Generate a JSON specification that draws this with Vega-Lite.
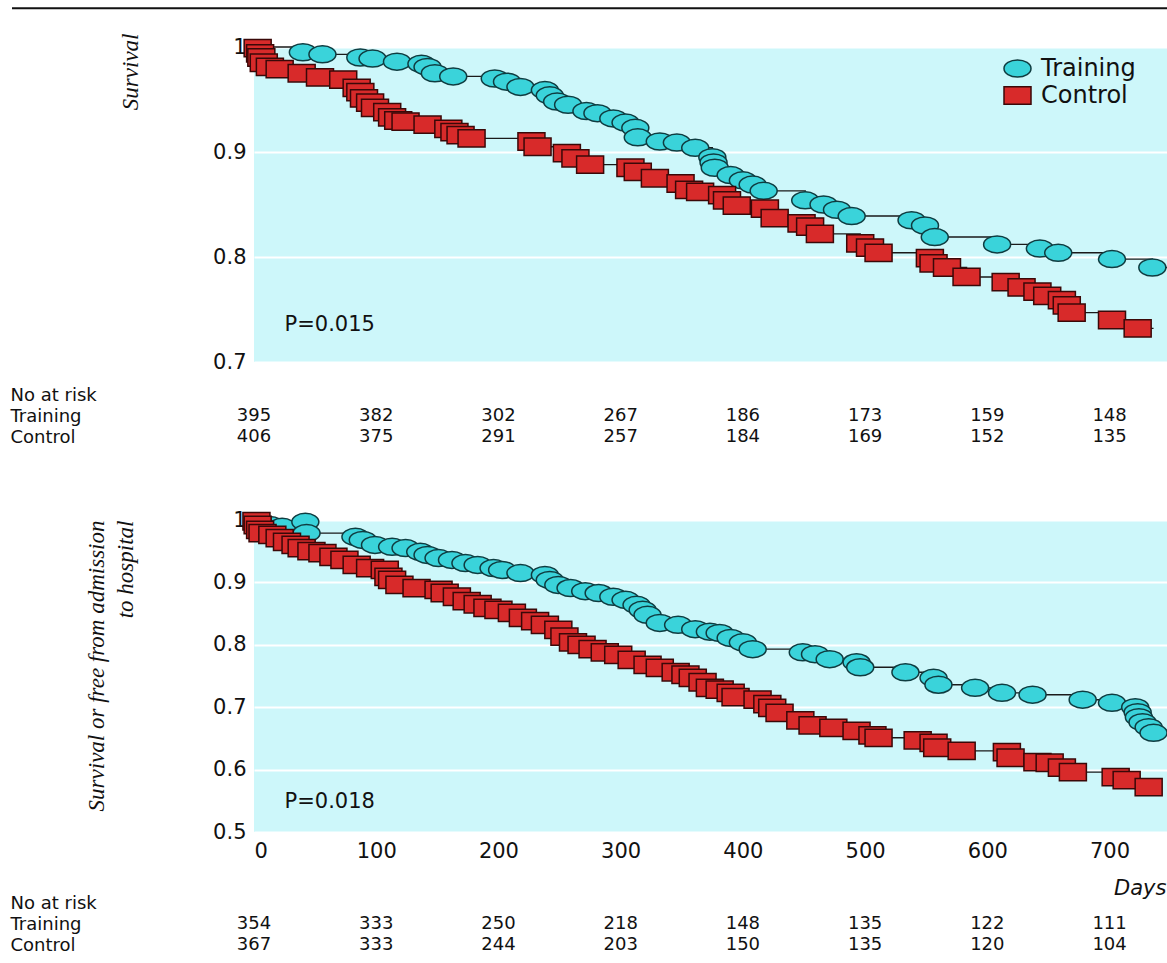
{
  "$schema": "https://vega.github.io/schema/vega-lite/v6.json",
  "autosize": {"type": "pad"},
  "padding": {"left": 10, "top": 7, "right": 0, "bottom": 0},
  "background": "white",
  "spacing": 0,
  "bounds": "flush",
  "config": {
    "view": {"stroke": null},
    "font": "DejaVu Sans",
    "axis": {"labelFont": "DejaVu Sans", "labelColor": "#111", "labelFontSize": 21, "titleColor": "#111"}
  },
  "resolve": {"scale": {"x": "independent", "y": "independent", "fill": "independent", "shape": "independent", "stroke": "independent"}},
  "datasets": {
    "top": [
      {"group": "Training", "day": 0, "s": 1, "type": "start"},
      {"group": "Training", "day": 40, "s": 0.995, "type": "event"},
      {"group": "Training", "day": 56, "s": 0.993, "type": "event"},
      {"group": "Training", "day": 87, "s": 0.990, "type": "event"},
      {"group": "Training", "day": 97, "s": 0.989, "type": "event"},
      {"group": "Training", "day": 117, "s": 0.986, "type": "event"},
      {"group": "Training", "day": 137, "s": 0.984, "type": "event"},
      {"group": "Training", "day": 142, "s": 0.981, "type": "event"},
      {"group": "Training", "day": 148, "s": 0.975, "type": "event"},
      {"group": "Training", "day": 163, "s": 0.972, "type": "event"},
      {"group": "Training", "day": 197, "s": 0.970, "type": "event"},
      {"group": "Training", "day": 207, "s": 0.967, "type": "event"},
      {"group": "Training", "day": 218, "s": 0.962, "type": "event"},
      {"group": "Training", "day": 238, "s": 0.959, "type": "event"},
      {"group": "Training", "day": 242, "s": 0.954, "type": "event"},
      {"group": "Training", "day": 248, "s": 0.948, "type": "event"},
      {"group": "Training", "day": 257, "s": 0.945, "type": "event"},
      {"group": "Training", "day": 272, "s": 0.939, "type": "event"},
      {"group": "Training", "day": 281, "s": 0.937, "type": "event"},
      {"group": "Training", "day": 294, "s": 0.932, "type": "event"},
      {"group": "Training", "day": 304, "s": 0.928, "type": "event"},
      {"group": "Training", "day": 312, "s": 0.923, "type": "event"},
      {"group": "Training", "day": 314, "s": 0.914, "type": "event"},
      {"group": "Training", "day": 332, "s": 0.910, "type": "event"},
      {"group": "Training", "day": 346, "s": 0.909, "type": "event"},
      {"group": "Training", "day": 361, "s": 0.904, "type": "event"},
      {"group": "Training", "day": 375, "s": 0.895, "type": "event"},
      {"group": "Training", "day": 376, "s": 0.890, "type": "event"},
      {"group": "Training", "day": 377, "s": 0.885, "type": "event"},
      {"group": "Training", "day": 390, "s": 0.878, "type": "event"},
      {"group": "Training", "day": 400, "s": 0.873, "type": "event"},
      {"group": "Training", "day": 408, "s": 0.869, "type": "event"},
      {"group": "Training", "day": 417, "s": 0.863, "type": "event"},
      {"group": "Training", "day": 451, "s": 0.854, "type": "event"},
      {"group": "Training", "day": 466, "s": 0.850, "type": "event"},
      {"group": "Training", "day": 477, "s": 0.845, "type": "event"},
      {"group": "Training", "day": 489, "s": 0.839, "type": "event"},
      {"group": "Training", "day": 538, "s": 0.835, "type": "event"},
      {"group": "Training", "day": 549, "s": 0.830, "type": "event"},
      {"group": "Training", "day": 557, "s": 0.819, "type": "event"},
      {"group": "Training", "day": 608, "s": 0.812, "type": "event"},
      {"group": "Training", "day": 643, "s": 0.808, "type": "event"},
      {"group": "Training", "day": 658, "s": 0.804, "type": "event"},
      {"group": "Training", "day": 702, "s": 0.798, "type": "event"},
      {"group": "Training", "day": 735, "s": 0.790, "type": "event"},
      {"group": "Training", "day": 747, "s": 0.790, "type": "end"},
      {"group": "Control", "day": 0, "s": 1, "type": "start"},
      {"group": "Control", "day": 3, "s": 0.999, "type": "event"},
      {"group": "Control", "day": 5, "s": 0.994, "type": "event"},
      {"group": "Control", "day": 6, "s": 0.990, "type": "event"},
      {"group": "Control", "day": 8, "s": 0.985, "type": "event"},
      {"group": "Control", "day": 13, "s": 0.981, "type": "event"},
      {"group": "Control", "day": 21, "s": 0.979, "type": "event"},
      {"group": "Control", "day": 39, "s": 0.975, "type": "event"},
      {"group": "Control", "day": 54, "s": 0.971, "type": "event"},
      {"group": "Control", "day": 73, "s": 0.969, "type": "event"},
      {"group": "Control", "day": 84, "s": 0.961, "type": "event"},
      {"group": "Control", "day": 87, "s": 0.957, "type": "event"},
      {"group": "Control", "day": 90, "s": 0.951, "type": "event"},
      {"group": "Control", "day": 95, "s": 0.947, "type": "event"},
      {"group": "Control", "day": 99, "s": 0.942, "type": "event"},
      {"group": "Control", "day": 109, "s": 0.938, "type": "event"},
      {"group": "Control", "day": 113, "s": 0.933, "type": "event"},
      {"group": "Control", "day": 118, "s": 0.930, "type": "event"},
      {"group": "Control", "day": 124, "s": 0.929, "type": "event"},
      {"group": "Control", "day": 142, "s": 0.926, "type": "event"},
      {"group": "Control", "day": 159, "s": 0.922, "type": "event"},
      {"group": "Control", "day": 164, "s": 0.919, "type": "event"},
      {"group": "Control", "day": 169, "s": 0.916, "type": "event"},
      {"group": "Control", "day": 178, "s": 0.913, "type": "event"},
      {"group": "Control", "day": 227, "s": 0.910, "type": "event"},
      {"group": "Control", "day": 232, "s": 0.905, "type": "event"},
      {"group": "Control", "day": 256, "s": 0.899, "type": "event"},
      {"group": "Control", "day": 263, "s": 0.894, "type": "event"},
      {"group": "Control", "day": 275, "s": 0.888, "type": "event"},
      {"group": "Control", "day": 308, "s": 0.885, "type": "event"},
      {"group": "Control", "day": 314, "s": 0.881, "type": "event"},
      {"group": "Control", "day": 328, "s": 0.875, "type": "event"},
      {"group": "Control", "day": 349, "s": 0.870, "type": "event"},
      {"group": "Control", "day": 356, "s": 0.864, "type": "event"},
      {"group": "Control", "day": 365, "s": 0.862, "type": "event"},
      {"group": "Control", "day": 383, "s": 0.859, "type": "event"},
      {"group": "Control", "day": 387, "s": 0.854, "type": "event"},
      {"group": "Control", "day": 395, "s": 0.849, "type": "event"},
      {"group": "Control", "day": 418, "s": 0.846, "type": "event"},
      {"group": "Control", "day": 426, "s": 0.837, "type": "event"},
      {"group": "Control", "day": 448, "s": 0.832, "type": "event"},
      {"group": "Control", "day": 455, "s": 0.829, "type": "event"},
      {"group": "Control", "day": 463, "s": 0.822, "type": "event"},
      {"group": "Control", "day": 496, "s": 0.813, "type": "event"},
      {"group": "Control", "day": 504, "s": 0.809, "type": "event"},
      {"group": "Control", "day": 511, "s": 0.804, "type": "event"},
      {"group": "Control", "day": 553, "s": 0.799, "type": "event"},
      {"group": "Control", "day": 556, "s": 0.794, "type": "event"},
      {"group": "Control", "day": 567, "s": 0.790, "type": "event"},
      {"group": "Control", "day": 583, "s": 0.781, "type": "event"},
      {"group": "Control", "day": 615, "s": 0.776, "type": "event"},
      {"group": "Control", "day": 628, "s": 0.771, "type": "event"},
      {"group": "Control", "day": 641, "s": 0.767, "type": "event"},
      {"group": "Control", "day": 649, "s": 0.763, "type": "event"},
      {"group": "Control", "day": 661, "s": 0.759, "type": "event"},
      {"group": "Control", "day": 665, "s": 0.754, "type": "event"},
      {"group": "Control", "day": 669, "s": 0.747, "type": "event"},
      {"group": "Control", "day": 702, "s": 0.740, "type": "event"},
      {"group": "Control", "day": 723, "s": 0.732, "type": "event"},
      {"group": "Control", "day": 736, "s": 0.732, "type": "end"}
    ],
    "bottom": [
      {"group": "Training", "day": 0, "s": 1, "type": "start"},
      {"group": "Training", "day": 13, "s": 0.992, "type": "event"},
      {"group": "Training", "day": 23, "s": 0.989, "type": "event"},
      {"group": "Training", "day": 42, "s": 0.997, "type": "censor"},
      {"group": "Training", "day": 43, "s": 0.979, "type": "event"},
      {"group": "Training", "day": 83, "s": 0.973, "type": "event"},
      {"group": "Training", "day": 89, "s": 0.968, "type": "event"},
      {"group": "Training", "day": 99, "s": 0.960, "type": "event"},
      {"group": "Training", "day": 113, "s": 0.957, "type": "event"},
      {"group": "Training", "day": 124, "s": 0.955, "type": "event"},
      {"group": "Training", "day": 136, "s": 0.949, "type": "event"},
      {"group": "Training", "day": 142, "s": 0.944, "type": "event"},
      {"group": "Training", "day": 151, "s": 0.939, "type": "event"},
      {"group": "Training", "day": 162, "s": 0.936, "type": "event"},
      {"group": "Training", "day": 173, "s": 0.931, "type": "event"},
      {"group": "Training", "day": 183, "s": 0.928, "type": "event"},
      {"group": "Training", "day": 196, "s": 0.923, "type": "event"},
      {"group": "Training", "day": 203, "s": 0.920, "type": "event"},
      {"group": "Training", "day": 218, "s": 0.915, "type": "event"},
      {"group": "Training", "day": 238, "s": 0.912, "type": "event"},
      {"group": "Training", "day": 242, "s": 0.904, "type": "event"},
      {"group": "Training", "day": 249, "s": 0.896, "type": "event"},
      {"group": "Training", "day": 259, "s": 0.891, "type": "event"},
      {"group": "Training", "day": 271, "s": 0.886, "type": "event"},
      {"group": "Training", "day": 282, "s": 0.883, "type": "event"},
      {"group": "Training", "day": 294, "s": 0.877, "type": "event"},
      {"group": "Training", "day": 304, "s": 0.872, "type": "event"},
      {"group": "Training", "day": 313, "s": 0.864, "type": "event"},
      {"group": "Training", "day": 318, "s": 0.856, "type": "event"},
      {"group": "Training", "day": 322, "s": 0.848, "type": "event"},
      {"group": "Training", "day": 332, "s": 0.835, "type": "event"},
      {"group": "Training", "day": 347, "s": 0.832, "type": "event"},
      {"group": "Training", "day": 361, "s": 0.825, "type": "event"},
      {"group": "Training", "day": 373, "s": 0.821, "type": "event"},
      {"group": "Training", "day": 381, "s": 0.819, "type": "event"},
      {"group": "Training", "day": 390, "s": 0.811, "type": "event"},
      {"group": "Training", "day": 400, "s": 0.804, "type": "event"},
      {"group": "Training", "day": 408, "s": 0.793, "type": "event"},
      {"group": "Training", "day": 449, "s": 0.788, "type": "event"},
      {"group": "Training", "day": 459, "s": 0.785, "type": "event"},
      {"group": "Training", "day": 471, "s": 0.777, "type": "event"},
      {"group": "Training", "day": 493, "s": 0.772, "type": "event"},
      {"group": "Training", "day": 496, "s": 0.764, "type": "event"},
      {"group": "Training", "day": 533, "s": 0.756, "type": "event"},
      {"group": "Training", "day": 556, "s": 0.747, "type": "event"},
      {"group": "Training", "day": 560, "s": 0.736, "type": "event"},
      {"group": "Training", "day": 590, "s": 0.731, "type": "event"},
      {"group": "Training", "day": 612, "s": 0.723, "type": "event"},
      {"group": "Training", "day": 637, "s": 0.720, "type": "event"},
      {"group": "Training", "day": 678, "s": 0.712, "type": "event"},
      {"group": "Training", "day": 702, "s": 0.707, "type": "event"},
      {"group": "Training", "day": 721, "s": 0.700, "type": "event"},
      {"group": "Training", "day": 723, "s": 0.692, "type": "event"},
      {"group": "Training", "day": 724, "s": 0.684, "type": "event"},
      {"group": "Training", "day": 727, "s": 0.676, "type": "event"},
      {"group": "Training", "day": 732, "s": 0.668, "type": "event"},
      {"group": "Training", "day": 736, "s": 0.659, "type": "event"},
      {"group": "Control", "day": 0, "s": 1, "type": "start"},
      {"group": "Control", "day": 2, "s": 0.998, "type": "event"},
      {"group": "Control", "day": 3, "s": 0.992, "type": "event"},
      {"group": "Control", "day": 5, "s": 0.984, "type": "event"},
      {"group": "Control", "day": 7, "s": 0.979, "type": "event"},
      {"group": "Control", "day": 15, "s": 0.976, "type": "event"},
      {"group": "Control", "day": 21, "s": 0.971, "type": "event"},
      {"group": "Control", "day": 27, "s": 0.965, "type": "event"},
      {"group": "Control", "day": 34, "s": 0.960, "type": "event"},
      {"group": "Control", "day": 39, "s": 0.955, "type": "event"},
      {"group": "Control", "day": 47, "s": 0.950, "type": "event"},
      {"group": "Control", "day": 56, "s": 0.947, "type": "event"},
      {"group": "Control", "day": 65, "s": 0.941, "type": "event"},
      {"group": "Control", "day": 74, "s": 0.936, "type": "event"},
      {"group": "Control", "day": 84, "s": 0.928, "type": "event"},
      {"group": "Control", "day": 95, "s": 0.923, "type": "event"},
      {"group": "Control", "day": 107, "s": 0.920, "type": "event"},
      {"group": "Control", "day": 110, "s": 0.909, "type": "event"},
      {"group": "Control", "day": 113, "s": 0.904, "type": "event"},
      {"group": "Control", "day": 119, "s": 0.896, "type": "event"},
      {"group": "Control", "day": 133, "s": 0.891, "type": "event"},
      {"group": "Control", "day": 151, "s": 0.888, "type": "event"},
      {"group": "Control", "day": 156, "s": 0.883, "type": "event"},
      {"group": "Control", "day": 166, "s": 0.877, "type": "event"},
      {"group": "Control", "day": 174, "s": 0.870, "type": "event"},
      {"group": "Control", "day": 183, "s": 0.865, "type": "event"},
      {"group": "Control", "day": 191, "s": 0.859, "type": "event"},
      {"group": "Control", "day": 200, "s": 0.856, "type": "event"},
      {"group": "Control", "day": 211, "s": 0.851, "type": "event"},
      {"group": "Control", "day": 220, "s": 0.843, "type": "event"},
      {"group": "Control", "day": 230, "s": 0.838, "type": "event"},
      {"group": "Control", "day": 238, "s": 0.832, "type": "event"},
      {"group": "Control", "day": 249, "s": 0.824, "type": "event"},
      {"group": "Control", "day": 254, "s": 0.813, "type": "event"},
      {"group": "Control", "day": 261, "s": 0.804, "type": "event"},
      {"group": "Control", "day": 268, "s": 0.800, "type": "event"},
      {"group": "Control", "day": 277, "s": 0.793, "type": "event"},
      {"group": "Control", "day": 287, "s": 0.788, "type": "event"},
      {"group": "Control", "day": 298, "s": 0.784, "type": "event"},
      {"group": "Control", "day": 309, "s": 0.776, "type": "event"},
      {"group": "Control", "day": 322, "s": 0.768, "type": "event"},
      {"group": "Control", "day": 332, "s": 0.763, "type": "event"},
      {"group": "Control", "day": 345, "s": 0.756, "type": "event"},
      {"group": "Control", "day": 353, "s": 0.752, "type": "event"},
      {"group": "Control", "day": 359, "s": 0.747, "type": "event"},
      {"group": "Control", "day": 367, "s": 0.740, "type": "event"},
      {"group": "Control", "day": 373, "s": 0.731, "type": "event"},
      {"group": "Control", "day": 381, "s": 0.728, "type": "event"},
      {"group": "Control", "day": 390, "s": 0.723, "type": "event"},
      {"group": "Control", "day": 394, "s": 0.716, "type": "event"},
      {"group": "Control", "day": 412, "s": 0.712, "type": "event"},
      {"group": "Control", "day": 420, "s": 0.705, "type": "event"},
      {"group": "Control", "day": 424, "s": 0.699, "type": "event"},
      {"group": "Control", "day": 430, "s": 0.691, "type": "event"},
      {"group": "Control", "day": 447, "s": 0.679, "type": "event"},
      {"group": "Control", "day": 457, "s": 0.671, "type": "event"},
      {"group": "Control", "day": 474, "s": 0.667, "type": "event"},
      {"group": "Control", "day": 493, "s": 0.662, "type": "event"},
      {"group": "Control", "day": 506, "s": 0.655, "type": "event"},
      {"group": "Control", "day": 511, "s": 0.651, "type": "event"},
      {"group": "Control", "day": 543, "s": 0.647, "type": "event"},
      {"group": "Control", "day": 556, "s": 0.643, "type": "event"},
      {"group": "Control", "day": 559, "s": 0.635, "type": "event"},
      {"group": "Control", "day": 579, "s": 0.630, "type": "event"},
      {"group": "Control", "day": 616, "s": 0.628, "type": "event"},
      {"group": "Control", "day": 619, "s": 0.619, "type": "event"},
      {"group": "Control", "day": 641, "s": 0.612, "type": "event"},
      {"group": "Control", "day": 651, "s": 0.611, "type": "event"},
      {"group": "Control", "day": 661, "s": 0.603, "type": "event"},
      {"group": "Control", "day": 670, "s": 0.596, "type": "event"},
      {"group": "Control", "day": 705, "s": 0.588, "type": "event"},
      {"group": "Control", "day": 714, "s": 0.583, "type": "event"},
      {"group": "Control", "day": 732, "s": 0.572, "type": "event"},
      {"group": "Control", "day": 736, "s": 0.572, "type": "end"}
    ],
    "riskTop": [
      {"row": "Training", "day": 0, "n": 395}, {"row": "Training", "day": 100, "n": 382},
      {"row": "Training", "day": 200, "n": 302}, {"row": "Training", "day": 300, "n": 267},
      {"row": "Training", "day": 400, "n": 186}, {"row": "Training", "day": 500, "n": 173},
      {"row": "Training", "day": 600, "n": 159}, {"row": "Training", "day": 700, "n": 148},
      {"row": "Control", "day": 0, "n": 406}, {"row": "Control", "day": 100, "n": 375},
      {"row": "Control", "day": 200, "n": 291}, {"row": "Control", "day": 300, "n": 257},
      {"row": "Control", "day": 400, "n": 184}, {"row": "Control", "day": 500, "n": 169},
      {"row": "Control", "day": 600, "n": 152}, {"row": "Control", "day": 700, "n": 135}
    ],
    "riskBottom": [
      {"row": "Training", "day": 0, "n": 354}, {"row": "Training", "day": 100, "n": 333},
      {"row": "Training", "day": 200, "n": 250}, {"row": "Training", "day": 300, "n": 218},
      {"row": "Training", "day": 400, "n": 148}, {"row": "Training", "day": 500, "n": 135},
      {"row": "Training", "day": 600, "n": 122}, {"row": "Training", "day": 700, "n": 111},
      {"row": "Control", "day": 0, "n": 367}, {"row": "Control", "day": 100, "n": 333},
      {"row": "Control", "day": 200, "n": 244}, {"row": "Control", "day": 300, "n": 203},
      {"row": "Control", "day": 400, "n": 150}, {"row": "Control", "day": 500, "n": 135},
      {"row": "Control", "day": 600, "n": 120}, {"row": "Control", "day": 700, "n": 104}
    ]
  },
  "vconcat": [
    {
      "width": 913,
      "height": 315,
      "view": {"fill": "#cdf7fa", "stroke": null},
      "data": {"name": "top"},
      "layer": [
        {
          "data": {"values": [{"what": "top border"}]},
          "mark": {"type": "rule", "color": "#111", "strokeWidth": 2},
          "encoding": {
            "x": {"datum": -198, "type": "quantitative", "scale": {"domain": [0, 747], "nice": false, "zero": false}, "axis": null},
            "x2": {"datum": 747},
            "y": {"datum": 1.037, "type": "quantitative"}
          }
        },
        {
          "transform": [{"filter": "datum.type !== 'censor'"}],
          "mark": {"type": "line", "interpolate": "step-after", "color": "#1a1a1a", "strokeWidth": 1.4},
          "encoding": {
            "x": {"field": "day", "type": "quantitative", "scale": {"domain": [0, 747], "nice": false, "zero": false}, "axis": null},
            "y": {"field": "s", "type": "quantitative", "scale": {"domain": [0.7, 1], "nice": false, "zero": false},
                  "axis": {"values": [0.7, 0.8, 0.9, 1], "format": "~g", "grid": true, "gridColor": "#ffffff", "gridWidth": 2, "domain": false, "ticks": false, "labelPadding": 8,
                           "title": "Survival", "titleFont": "Liberation Sans Narrow", "titleFontStyle": "italic", "titleFontWeight": "normal", "titleFontSize": 23,
                           "titleAngle": 270, "titleAlign": "right", "titleBaseline": "middle", "titleX": -124, "titleY": -14}},
            "detail": {"field": "group"}
          }
        },
        {
          "transform": [{"filter": "datum.type === 'event' || datum.type === 'censor'"}],
          "mark": {"type": "point", "filled": true, "size": 729, "strokeWidth": 1.5, "opacity": 1},
          "encoding": {
            "x": {"field": "day", "type": "quantitative"},
            "y": {"field": "s", "type": "quantitative"},
            "fill": {"field": "group", "type": "nominal", "scale": {"domain": ["Training", "Control"], "range": ["#3ad3da", "#d82a2a"]},
                     "legend": {"orient": "none", "legendX": 749, "legendY": 7, "title": null, "labelFontSize": 24, "labelFont": "DejaVu Sans", "labelColor": "#111", "symbolSize": 729, "symbolStrokeWidth": 1.5, "rowPadding": -1, "labelOffset": 9, "padding": 0}},
            "shape": {"field": "group", "type": "nominal", "scale": {"domain": ["Training", "Control"], "range": ["M -1 0 A 1 0.63 0 1 1 1 0 A 1 0.63 0 1 1 -1 0 Z", "M -1 -0.64 L 1 -0.64 L 1 0.64 L -1 0.64 Z"]},
                     "legend": {"orient": "none", "legendX": 749, "legendY": 7, "title": null, "labelFontSize": 24, "labelFont": "DejaVu Sans", "labelColor": "#111", "symbolSize": 729, "symbolStrokeWidth": 1.5, "rowPadding": -1, "labelOffset": 9, "padding": 0}},
            "stroke": {"field": "group", "type": "nominal", "scale": {"domain": ["Training", "Control"], "range": ["#0f3c40", "#3a0808"]},
                     "legend": {"orient": "none", "legendX": 749, "legendY": 7, "title": null, "labelFontSize": 24, "labelFont": "DejaVu Sans", "labelColor": "#111", "symbolSize": 729, "symbolStrokeWidth": 1.5, "rowPadding": -1, "labelOffset": 9, "padding": 0}}
          }
        },
        {
          "data": {"values": [{"label": "P=0.015"}]},
          "mark": {"type": "text", "align": "left", "baseline": "middle", "fontSize": 21, "font": "DejaVu Sans", "color": "#111"},
          "encoding": {
            "x": {"datum": 25, "type": "quantitative"},
            "y": {"datum": 0.735, "type": "quantitative"},
            "text": {"field": "label"}
          }
        }
      ]
    },
    {
      "width": 913,
      "height": 158,
      "data": {"name": "riskTop"},
      "mark": {"type": "text", "fontSize": 18, "font": "DejaVu Sans", "color": "#111", "baseline": "middle"},
      "encoding": {
        "x": {"field": "day", "type": "quantitative", "scale": {"domain": [0, 747], "nice": false, "zero": false}, "axis": null},
        "y": {"field": "row", "type": "nominal", "scale": {"type": "point", "domain": ["No at risk", "Training", "Control"], "range": [33, 75], "padding": 0},
              "axis": {"domain": false, "ticks": false, "labelAlign": "left", "labelBaseline": "middle", "labelPadding": 244, "labelFontSize": 18, "title": null}},
        "text": {"field": "n", "type": "quantitative"}
      }
    },
    {
      "width": 913,
      "height": 312,
      "view": {"fill": "#cdf7fa", "stroke": null},
      "data": {"name": "bottom"},
      "layer": [
        {
          "transform": [{"filter": "datum.type !== 'censor'"}],
          "mark": {"type": "line", "interpolate": "step-after", "color": "#1a1a1a", "strokeWidth": 1.4},
          "encoding": {
            "x": {"field": "day", "type": "quantitative", "scale": {"domain": [0, 747], "nice": false, "zero": false},
                  "axis": {"values": [0, 100, 200, 300, 400, 500, 600, 700], "grid": false, "domain": false, "ticks": false, "labelPadding": 8,
                           "title": "Days", "titleFont": "DejaVu Sans", "titleFontStyle": "italic", "titleFontWeight": "normal", "titleFontSize": 21,
                           "titleAlign": "right", "titleBaseline": "middle", "titleX": 912, "titleY": 56}},
            "y": {"field": "s", "type": "quantitative", "scale": {"domain": [0.5, 1], "nice": false, "zero": false},
                  "axis": {"values": [0.5, 0.6, 0.7, 0.8, 0.9, 1], "format": "~g", "grid": true, "gridColor": "#ffffff", "gridWidth": 2, "domain": false, "ticks": false, "labelPadding": 8,
                           "title": ["Survival or free from admission", "to hospital"], "titleFont": "Liberation Sans Narrow", "titleFontStyle": "italic", "titleFontWeight": "normal", "titleFontSize": 23, "titleLineHeight": 29,
                           "titleAngle": 270, "titleAlign": "right", "titleBaseline": "middle", "titleX": -158, "titleY": 0}},
            "detail": {"field": "group"}
          }
        },
        {
          "transform": [{"filter": "datum.type === 'event' || datum.type === 'censor'"}],
          "mark": {"type": "point", "filled": true, "size": 729, "strokeWidth": 1.5, "opacity": 1},
          "encoding": {
            "x": {"field": "day", "type": "quantitative"},
            "y": {"field": "s", "type": "quantitative"},
            "fill": {"field": "group", "type": "nominal", "scale": {"domain": ["Training", "Control"], "range": ["#3ad3da", "#d82a2a"]}, "legend": null},
            "shape": {"field": "group", "type": "nominal", "scale": {"domain": ["Training", "Control"], "range": ["M -1 0 A 1 0.63 0 1 1 1 0 A 1 0.63 0 1 1 -1 0 Z", "M -1 -0.64 L 1 -0.64 L 1 0.64 L -1 0.64 Z"]}, "legend": null},
            "stroke": {"field": "group", "type": "nominal", "scale": {"domain": ["Training", "Control"], "range": ["#0f3c40", "#3a0808"]}, "legend": null}
          }
        },
        {
          "data": {"values": [{"label": "P=0.018"}]},
          "mark": {"type": "text", "align": "left", "baseline": "middle", "fontSize": 21, "font": "DejaVu Sans", "color": "#111"},
          "encoding": {
            "x": {"datum": 25, "type": "quantitative"},
            "y": {"datum": 0.548, "type": "quantitative"},
            "text": {"field": "label"}
          }
        }
      ]
    },
    {
      "width": 913,
      "height": 130,
      "data": {"name": "riskBottom"},
      "mark": {"type": "text", "fontSize": 18, "font": "DejaVu Sans", "color": "#111", "baseline": "middle"},
      "encoding": {
        "x": {"field": "day", "type": "quantitative", "scale": {"domain": [0, 747], "nice": false, "zero": false}, "axis": null},
        "y": {"field": "row", "type": "nominal", "scale": {"type": "point", "domain": ["No at risk", "Training", "Control"], "range": [71, 113], "padding": 0},
              "axis": {"domain": false, "ticks": false, "labelAlign": "left", "labelBaseline": "middle", "labelPadding": 244, "labelFontSize": 18, "title": null}},
        "text": {"field": "n", "type": "quantitative"}
      }
    }
  ]
}
